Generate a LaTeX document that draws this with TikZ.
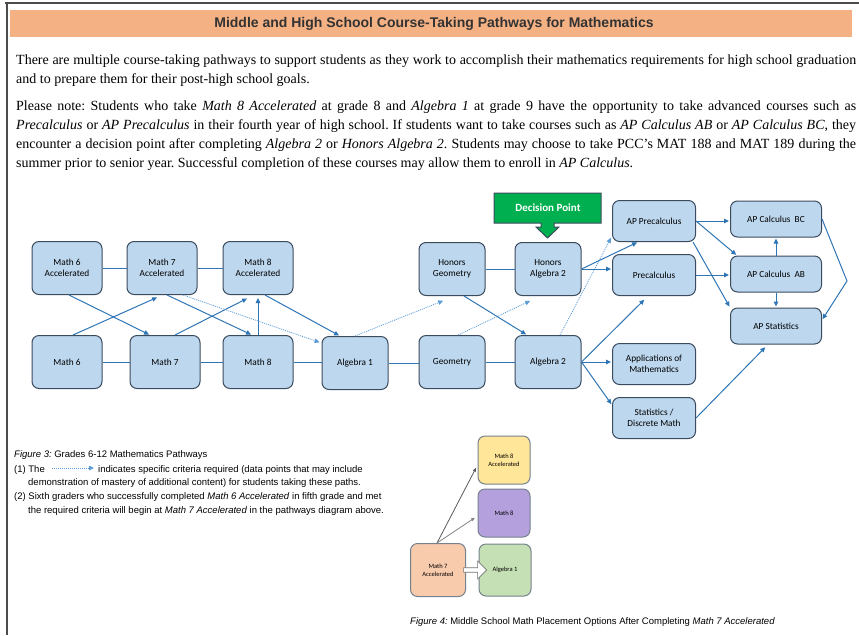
\documentclass[tikz,border=0pt]{standalone}
\usepackage{fontspec}
\setmainfont{Liberation Serif}
\newfontfamily\boxfont{Carlito}
\newfontfamily\capfont{Liberation Sans}
\newfontfamily\bodyfont{Liberation Serif}
\newfontfamily\titlefont{Liberation Sans}
\usetikzlibrary{arrows.meta,shapes.arrows,calc}
\definecolor{boxblue}{HTML}{BDD7EE}
\definecolor{boxline}{HTML}{3B4B5E}
\definecolor{pathblue}{HTML}{2E75B6}
\definecolor{dotblue}{HTML}{5B9BD5}
\definecolor{titlebar}{HTML}{F4B183}
\definecolor{decgreen}{HTML}{00B050}
\definecolor{mathyellow}{HTML}{FFE699}
\definecolor{mathpurple}{HTML}{B4A0DC}
\definecolor{algreen}{HTML}{C5E0B4}
\definecolor{mathpeach}{HTML}{F8CBAD}
\newcommand{\course}[4]{\node[course,#2] (#1) at #3 {#4};}
\frenchspacing

\begin{document}
\begin{tikzpicture}[
      x=1pt, y=-1pt,
      course/.style={rectangle, rounded corners=7pt, draw=boxline, line width=1pt, fill=boxblue,
        font=\boxfont\fontsize{9.3}{11}\selectfont, align=center, inner sep=0pt},
      wide/.style={minimum width=70pt, minimum height=53pt},
      narrow/.style={minimum width=66pt, minimum height=53pt},
      mid/.style={minimum width=83pt, minimum height=41pt},
      ap/.style={minimum width=91pt, minimum height=36pt},
      small/.style={course, minimum width=52pt, minimum height=48pt, draw=boxline!70,
        font=\boxfont\fontsize{6.5}{8}\selectfont},
      link/.style={draw=pathblue, line width=1pt},
      pointer/.style={link, -{Triangle[length=5pt,width=4.5pt]}, shorten >=1pt},
      dpointer/.style={draw=dotblue, line width=0.8pt, dash pattern=on 1pt off 1pt,
        -{Triangle[length=5pt,width=4.5pt]}, shorten >=2pt},
      gpointer/.style={draw=black!65, line width=0.8pt, -{Triangle[length=4pt,width=3pt]}, shorten >=3pt},
      para/.style={font={\bodyfont\fontsize{14}{19}\selectfont\hyphenpenalty=10000}, text width=840pt,
        align=justify, inner sep=0pt, anchor=north west},
      capline/.style={font=\capfont\fontsize{9.5}{12}\selectfont, inner sep=0pt, anchor=base west}
      ]
      \useasboundingbox (0,0) rectangle (859,635);
      % frame and heading
      \draw[black!70, line width=2pt] (5,3) -- (859,3);
      \draw[black!70, line width=2pt] (7,3) -- (7,635);
      \fill[titlebar] (10,10) rectangle (852,37);
      \node[font=\titlefont\bfseries\fontsize{14}{16}\selectfont, text=black!80] (title) at (434,24)
        {Middle and High School Course-Taking Pathways for Mathematics};
      \node[para] (intro) at (16,54) {There are multiple course-taking pathways to support students as they work to accomplish their mathematics requirements for high school graduation\linebreak and to prepare them for their post-high school goals.};
      \node[para] (note) at (16,101) {Please note: Students who take \textit{Math 8 Accelerated} at grade 8 and \textit{Algebra 1} at grade 9 have the opportunity to take advanced courses such as\linebreak \textit{Precalculus} or \textit{AP Precalculus} in their fourth year of high school. If students want to take courses such as \textit{AP Calculus AB} or \textit{AP Calculus BC}, they\linebreak encounter a decision point after completing \textit{Algebra 2} or \textit{Honors Algebra 2}. Students may choose to take PCC’s MAT 188 and MAT 189 during the\linebreak summer prior to senior year. Successful completion of these courses may allow them to enroll in \textit{AP Calculus}.};

      % Figure 3: pathways
      \course{m6a}{wide}{(67,268)}{Math 6\\Accelerated}
      \course{m7a}{wide}{(162,268)}{Math 7\\Accelerated}
      \course{m8a}{wide}{(258,268)}{Math 8\\Accelerated}
      \course{m6}{wide}{(67,362)}{Math 6}
      \course{m7}{wide}{(165,362)}{Math 7}
      \course{m8}{wide}{(258,362)}{Math 8}
      \course{alg1}{narrow}{(355,363)}{Algebra 1}
      \course{hgeo}{narrow}{(452,269)}{Honors\\Geometry}
      \course{geo}{narrow}{(452,362)}{Geometry}
      \course{halg2}{narrow}{(548,269)}{Honors\\Algebra 2}
      \course{alg2}{narrow}{(548,362)}{Algebra 2}
      \course{appre}{mid}{(654,221)}{AP Precalculus}
      \course{pre}{mid}{(654,275)}{Precalculus}
      \course{appl}{mid}{(654,364)}{Applications of\\Mathematics}
      \course{stat}{mid}{(654,418)}{Statistics /\\Discrete Math}
      \course{bc}{ap}{(776,219)}{AP Calculus~ BC}
      \course{ab}{ap}{(776,274)}{AP Calculus~ AB}
      \course{aps}{ap}{(776,326)}{AP Statistics}

      \fill[decgreen, draw=boxline, line width=1pt] (494,193) -- (601,193) -- (601,223) -- (554,223)
        -- (554,227) -- (559,227) -- (547.5,238) -- (536,227) -- (541,227) -- (541,223) -- (494,223) -- cycle;
      \node[font=\boxfont\bfseries\fontsize{11}{13}\selectfont, text=white] (decision) at (548,208) {Decision Point};

      \path[link] (m6a.east) edge (m7a.west) (m7a.east) edge (m8a.west);
      \path[link] (m6.east) edge (m7.west) (m7.east) edge (m8.west);
      \path[link] (m8.east) edge (m8.east -| alg1.west) (alg1.east) edge (alg1.east -| geo.west);
      \path[link] (geo.east) edge (geo.east -| alg2.west) (hgeo.east) edge (hgeo.east -| halg2.west);

      \draw[pointer] ([xshift=2pt]m6a.south) -- ([xshift=-15pt]m7.north);
      \draw[pointer] ([xshift=6pt]m6.north) -- ([xshift=-4pt,yshift=-2pt]m7a.south);
      \draw[pointer] ([xshift=5pt]m7a.south) -- ([xshift=-6pt]m8.north);
      \draw[pointer] ([xshift=10pt]m7.north) -- ([xshift=-10pt,yshift=-3pt]m8a.south);
      \draw[pointer] (m8.north) -- ([yshift=-2pt]m8a.south);
      \draw[pointer] ([xshift=7pt]m8a.south) -- ([xshift=-15pt]alg1.north);
      \draw[dpointer] ([xshift=21pt]m7a.south) -- ([yshift=-7pt]alg1.north west);
      \draw[dpointer] (alg1.north) -- ([xshift=-7pt,yshift=-4pt]hgeo.south);
      \draw[pointer] ([xshift=12pt]hgeo.south) -- ([xshift=-21pt]alg2.north);
      \draw[dpointer] ([xshift=6pt]geo.north) -- ([xshift=-16pt,yshift=-4pt]halg2.south);
      \draw[dpointer] ([xshift=12pt]alg2.north) -- ([yshift=6pt]appre.south west);
      \draw[pointer] (halg2.east) -- ([xshift=-16pt]appre.south);
      \draw[pointer] (halg2.east) -- (halg2.east -| pre.west);
      \draw[pointer] (alg2.east) -- ([xshift=-9pt,yshift=-3pt]pre.south);
      \draw[pointer] (alg2.east) -- (alg2.east -| appl.west);
      \draw[pointer] (alg2.east) -- ([yshift=13pt]stat.west);
      \draw[pointer] (appre.east) -- (appre.east -| bc.west);
      \draw[pointer] (appre.east) -- ([xshift=7pt]ab.north west);
      \draw[pointer] ([xshift=-3pt]appre.south east) -- (aps.north west);
      \draw[pointer] (pre.east) -- (pre.east -| ab.west);
      \draw[pointer] (ab.north) -- (bc.south);
      \draw[pointer] (ab.south) -- (aps.north);
      \coordinate (bend) at (847,281);
      \draw[pointer] (bc.east) -- (bend) -- ([yshift=6pt]aps.east);
      \draw[pointer] (stat.east) -- ([xshift=-10pt,yshift=-2pt]aps.south);

      % captions
      \node[capline] (cap3) at (14,457) {\textit{Figure 3:} Grades 6-12 Mathematics Pathways};
      \node[capline] (item1) at (14,472) {(1) The};
      \coordinate (keyfrom) at (52,468);
      \coordinate (keyto) at (94,468);
      \draw[dpointer, shorten >=0pt] (keyfrom) -- (keyto);
      \node[capline] (item1b) at (98,472) {indicates specific criteria required (data points that may include};
      \node[capline] (item1c) at (28,485) {demonstration of mastery of additional content) for students taking these paths.};
      \node[capline] (item2) at (14,499) {(2) Sixth graders who successfully completed \textit{Math 6 Accelerated} in fifth grade and met};
      \node[capline] (item2b) at (28,513) {the required criteria will begin at \textit{Math 7 Accelerated} in the pathways diagram above.};

      % Figure 4: placement after Math 7 Accelerated
      \node[small, fill=mathyellow] (f8a) at (504,460) {Math 8\\Accelerated};
      \node[small, fill=mathpurple] (f8) at (504,513) {Math 8};
      \node[small, fill=algreen, minimum height=52pt] (fa1) at (505,570) {Algebra 1};
      \node[small, fill=mathpeach, minimum width=55pt, minimum height=53pt] (f7a) at (438,570) {Math 7\\Accelerated};
      \draw[gpointer] ([xshift=-1pt]f7a.north) -- ([yshift=-5pt]f8a.west);
      \draw[gpointer, draw=black!50] ([xshift=-1pt]f7a.north) -- ([yshift=-3pt]f8.west);
      \node[single arrow, draw=black!55, fill=white, line width=0.7pt, minimum height=23pt,
        minimum width=18pt, single arrow head extend=4pt, inner sep=1pt] (push) at (474,570) {};
      \node[capline] (cap4) at (410,624) {\textit{Figure 4:} Middle School Math Placement Options After Completing \textit{Math 7 Accelerated}};
    \end{tikzpicture}
\end{document}
